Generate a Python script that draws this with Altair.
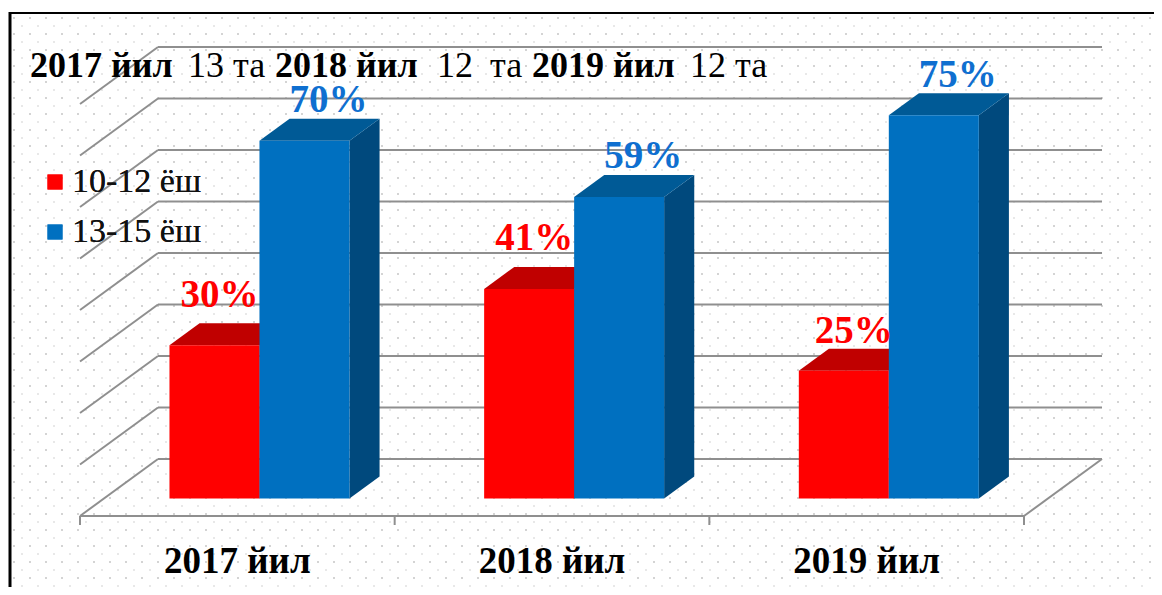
import altair as alt
import pandas as pd

categories = ["2017 йил", "2018 йил", "2019 йил"]
series_names = ["10-12 ёш", "13-15 ёш"]
values_young = [30, 41, 25]
values_old = [70, 59, 75]
grid_values = [0, 10, 20, 30, 40, 50, 60, 70, 80]

front_colors = ["#ff0000", "#0070c0"]
top_colors = ["#c00000", "#005a96"]
side_colors = ["#a80000", "#00497d"]
label_colors = ["#ff0000", "#0f6fd0"]
SERIF = "Liberation Serif"

W, H = 1146, 579
PX_CAT, PX_PCT = 314.67, 5.15      # pixels per category / per percent
DEPTH_X, DEPTH_Y = 78 / PX_CAT, 57 / PX_PCT  # oblique projection of the depth axis
X0, Y0 = 80, 516                   # page pixel of the front-left floor corner
BAR_FORESHORTEN = 0.992            # bars stand nearer than the back wall the grid is on


def proj(cat, pct, z=0.0):
    return cat + z * DEPTH_X, pct + z * DEPTH_Y


sx = alt.Scale(domain=[(8 - X0) / PX_CAT, (8 + W - X0) / PX_CAT], range=[0, W], nice=False, zero=False)
sy = alt.Scale(domain=[(Y0 - 8 - H) / PX_PCT, (Y0 - 8) / PX_PCT], range=[H, 0], nice=False, zero=False)
X = alt.X("x:Q", scale=sx, axis=None)
Y = alt.Y("y:Q", scale=sy, axis=None)
X2 = alt.X2("x2:Q")
Y2 = alt.Y2("y2:Q")

# dotted paper background
dots = []
for r, py in enumerate(range(0, H, 8)):
    for c in range(0, W, 16):
        dots.append({"px": c + (8 if r % 2 else 0) + 6, "py": py + 10, "k": r % 2})
dots = pd.DataFrame(dots)
dots = dots[(dots.px < W) & (dots.py > 6)]
dot_layer = alt.Chart(dots).mark_square(size=4, opacity=1, strokeWidth=0).encode(
    x=alt.X("px:Q", scale=alt.Scale(domain=[0, W], range=[0, W], nice=False), axis=None),
    y=alt.Y("py:Q", scale=alt.Scale(domain=[0, H], range=[0, H], nice=False), axis=None),
    color=alt.Color("k:N", scale=alt.Scale(domain=[0, 1], range=["#d4d4d4", "#e8e8e8"]), legend=None),
)

# wall and floor lines
seg = []
for g in grid_values:
    a, b = proj(0, g, 1), proj(3, g, 1)
    seg += [dict(id=f"b{g}", x=a[0], y=a[1]), dict(id=f"b{g}", x=b[0], y=b[1])]
    a, b = proj(0, g, 0), proj(0, g, 1)
    seg += [dict(id=f"l{g}", x=a[0], y=a[1]), dict(id=f"l{g}", x=b[0], y=b[1])]
a, b = proj(0, 0), proj(3, 0)
seg += [dict(id="f", x=a[0], y=a[1]), dict(id="f", x=b[0], y=b[1])]
a, b = proj(3, 0), proj(3, 0, 1)
seg += [dict(id="r", x=a[0], y=a[1]), dict(id="r", x=b[0], y=b[1])]
for t in range(4):
    seg += [dict(id=f"t{t}", x=t, y=0), dict(id=f"t{t}", x=t, y=-9 / PX_PCT)]
grid_layer = alt.Chart(pd.DataFrame(seg)).mark_line(color="#8f8f8f", strokeWidth=2).encode(
    x=X, y=Y, detail="id:N", order="y:Q"
)

# bars
BAR_W = 0.286
BAR_START = 0.2078
Z0, Z1 = 17.6 / 57, 39.6 / 57
layers = []
label_rows = []
for si, (name, vals) in enumerate(zip(series_names, [values_young, values_old])):
    fronts, sides, tops = [], [], []
    for ci, (cat, v) in enumerate(zip(categories, vals)):
        h = v * BAR_FORESHORTEN
        left = ci + BAR_START + si * BAR_W
        right = left + BAR_W
        (xa, ya), (xb, yb) = proj(left, h, Z0), proj(right, 0, Z0)
        fronts.append(dict(series=name, x=xa, x2=xb, y=ya, y2=yb))
        (sx0, st0), (_, sb0) = proj(right, h, Z0), proj(right, 0, Z0)
        (sx1, st1), (_, sb1) = proj(right, h, Z1), proj(right, 0, Z1)
        sides += [dict(id=ci, x=sx0, y=st0, y2=sb0), dict(id=ci, x=sx1, y=st1, y2=sb1)]
        (tl0, ty0), (tr0, _) = proj(left, h, Z0), proj(right, h, Z0)
        (tl1, ty1), (tr1, _) = proj(left, h, Z1), proj(right, h, Z1)
        tops += [dict(id=ci, x=tl0, x2=tr0, y=ty0), dict(id=ci, x=tl1, x2=tr1, y=ty1)]
        if si == 0 and v >= 30:
            nudge, lift = 5 / PX_CAT, 38.5 / PX_PCT
        elif si == 0:
            nudge, lift = 10 / PX_CAT, 28 / PX_PCT
        else:
            nudge, lift = 24 / PX_CAT, 28.5 / PX_PCT
        label_rows.append(dict(series=name, text=f"{v}%", x=xa + BAR_W / 2 + nudge, y=ya + lift))
    layers.append(alt.Chart(pd.DataFrame(sides)).mark_area(color=side_colors[si], orient="vertical", opacity=1).encode(
        x=X, y=Y, y2=Y2, detail="id:N"))
    layers.append(alt.Chart(pd.DataFrame(tops)).mark_area(color=top_colors[si], orient="horizontal", opacity=1).encode(
        y=Y, x=X, x2=X2, detail="id:N"))
    layers.append(alt.Chart(pd.DataFrame(fronts)).mark_rect(opacity=1).encode(
        x=X, x2=X2, y=Y, y2=Y2,
        color=alt.Color("series:N",
                        scale=alt.Scale(domain=series_names, range=front_colors),
                        legend=alt.Legend(orient="none", legendX=30, legendY=157, title=None,
                                          symbolType="square", symbolSize=225, symbolStrokeWidth=0,
                                          labelFont=SERIF, labelFontSize=34, labelColor="#111111",
                                          labelLimit=300, rowPadding=16, labelOffset=0)),
    ))

labels = pd.DataFrame(label_rows)
label_layer = alt.Chart(labels).mark_text(font=SERIF, fontWeight="bold", fontSize=39, baseline="alphabetic").encode(
    x=X, y=Y, text="text:N",
    color=alt.Color("series:N", scale=alt.Scale(domain=series_names, range=label_colors), legend=None),
)

cat_df = pd.DataFrame({"text": categories, "x": [i + 0.5 for i in range(3)], "y": [-57 / PX_PCT] * 3})
cat_layer = alt.Chart(cat_df).mark_text(font=SERIF, fontWeight="bold", fontSize=37, baseline="alphabetic", color="#000000").encode(
    x=X, y=Y, text="text:N"
)

# annotation line, page pixels minus the 8px margin
title_parts = [
    ("2017 йил", 30, "bold"), ("13", 188, "normal"), ("та", 233, "normal"),
    ("2018 йил", 275, "bold"), ("12", 437, "normal"), ("та", 490, "normal"),
    ("2019 йил", 532, "bold"), ("12", 690, "normal"), ("та", 735, "normal"),
]
title_layers = []
for txt, px, wt in title_parts:
    title_layers.append(
        alt.Chart(pd.DataFrame({"t": [txt]})).mark_text(
            font=SERIF, fontWeight=wt, fontSize=36, align="left", baseline="alphabetic", color="#000000"
        ).encode(x=alt.value(px - 8), y=alt.value(77 - 8), text="t:N")
    )

border_top = alt.Chart(pd.DataFrame({"a": [0]})).mark_rule(color="#000000", strokeWidth=2).encode(
    x=alt.value(1), x2=alt.value(W), y=alt.value(5))
border_left = alt.Chart(pd.DataFrame({"a": [0]})).mark_rule(color="#000000", strokeWidth=3).encode(
    x=alt.value(2), y=alt.value(4), y2=alt.value(H))

chart = alt.layer(
    dot_layer, border_top, border_left, grid_layer, *layers, label_layer, cat_layer, *title_layers
).resolve_scale(x="independent", y="independent", color="independent").properties(
    width=W, height=H, padding=0, background="#ffffff",
    autosize=alt.AutoSizeParams(type="none"),
).configure_view(stroke=None)

chart.save("out.html", embed_options={"renderer": "svg", "actions": False})
